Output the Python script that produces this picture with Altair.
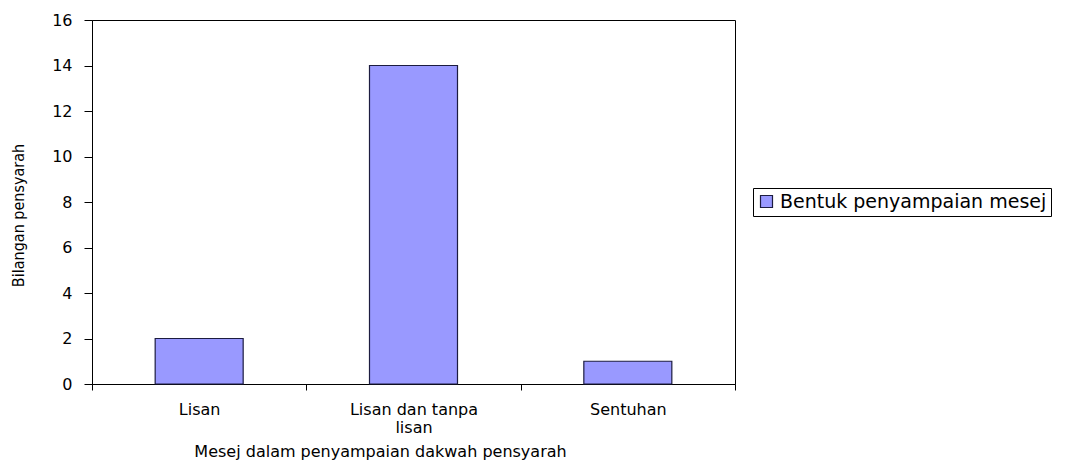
import altair as alt
import pandas as pd

categories = ["Lisan", "Lisan dan tanpa lisan", "Sentuhan"]
values = [2, 14, 1]
series = ["Bentuk penyampaian mesej"] * 3
y_ticks = [0, 2, 4, 6, 8, 10, 12, 14, 16]

df = pd.DataFrame({"kategori": categories, "nilai": values, "siri": series})

FONT = "DejaVu Sans"

chart = alt.Chart(df).mark_bar(
    size=88, stroke="#1c1c40", strokeWidth=1.2
).encode(
    x=alt.X(
        "kategori:N",
        sort=categories,
        scale=alt.Scale(paddingInner=0, paddingOuter=0),
        axis=alt.Axis(
            title="Mesej dalam penyampaian dakwah pensyarah",
            titleFont=FONT, titleFontSize=16, titleFontWeight="normal",
            titleColor="#000", titleX=288, titleY=67,
            titleBaseline="middle", titleAlign="center",
            labelAngle=0, labelFont=FONT, labelFontSize=16, labelColor="#000",
            labelPadding=11, labelLineHeight=18,
            labelExpr="datum.label == 'Lisan dan tanpa lisan' ? ['Lisan dan tanpa', 'lisan'] : datum.label",
            tickBand="extent", tickSize=6, tickColor="#000",
            domainColor="#000", grid=False,
        ),
    ),
    y=alt.Y(
        "nilai:Q",
        scale=alt.Scale(domain=[0, 16], nice=False),
        axis=alt.Axis(
            values=y_ticks,
            title="Bilangan pensyarah",
            titleFont="Liberation Sans Narrow, DejaVu Sans Condensed, Liberation Sans",
            titleFontSize=16, titleFontWeight="normal", titleColor="#000",
            titleX=-74, titleY=195, titleAngle=-90,
            titleBaseline="middle", titleAlign="center",
            labelFont=FONT, labelFontSize=16, labelColor="#000",
            labelPadding=12, tickSize=8, tickColor="#000",
            domainColor="#000", grid=False,
        ),
    ),
    color=alt.Color(
        "siri:N",
        scale=alt.Scale(domain=["Bentuk penyampaian mesej"], range=["#9999FF"]),
        legend=alt.Legend(
            title=None, orient="none", legendX=661, legendY=168,
            symbolType="square", symbolSize=144, symbolStrokeColor="#1c1c40",
            symbolStrokeWidth=1.2, labelLimit=400,
            labelFont=FONT, labelFontSize=19, labelColor="#000",
            strokeColor="#000", fillColor="#fff", padding=4,
        ),
    ),
).properties(
    width=643, height=364,
    background="#fff",
    autosize=alt.AutoSizeParams(type="none"),
    padding={"left": 84, "top": 12, "right": 339, "bottom": 77},
).configure_view(
    stroke="#000", strokeWidth=1
)

chart.save("out.html", embed_options={"renderer": "svg", "actions": False})
